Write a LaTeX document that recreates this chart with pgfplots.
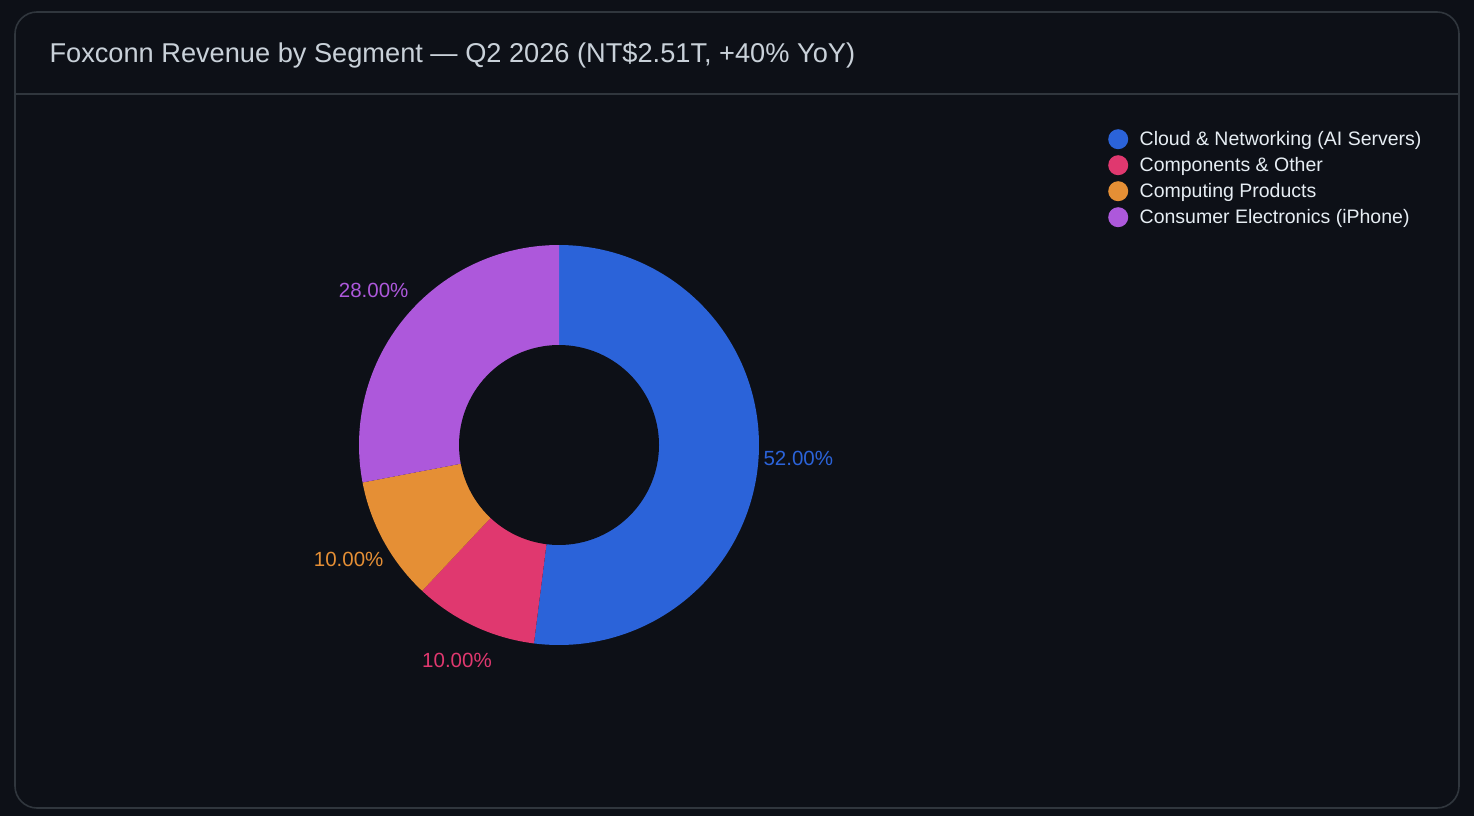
\documentclass[border=0pt]{standalone}
\usepackage{pgfplots}
\pgfplotsset{compat=1.18}
\usepackage{fontspec}
\setmainfont{Liberation Sans}
\definecolor{bg}{HTML}{0D1017}
\definecolor{cardline}{HTML}{30363D}
\definecolor{titlecol}{HTML}{C9D1D9}
\definecolor{legcol}{HTML}{E6EDF3}
\definecolor{cblue}{HTML}{2B63D9}
\definecolor{cpink}{HTML}{E0386F}
\definecolor{corange}{HTML}{E58F35}
\definecolor{cpurple}{HTML}{AD58DB}
\begin{document}
\begin{tikzpicture}
\begin{axis}[
  at={(0,0)}, anchor=south west,
  scale only axis, width=1474pt, height=816pt,
  xmin=0, xmax=1474, ymin=0, ymax=816, y dir=reverse,
  hide axis, clip=false,
  legend style={at={(axis cs:1108,129)}, anchor=north west, draw=none, fill=none,
    text=legcol, font=\fontsize{19.5}{26}\selectfont, row sep=6pt, column sep=10pt,
    inner sep=0pt, nodes={inner sep=1.5pt, text depth=0.25ex}},
  legend cell align=left,
  legend image code/.code={\fill[#1] (4pt,0pt) circle (10pt);},
]
% background and card
\fill[bg] (axis cs:0,0) rectangle (axis cs:1474,816);
\draw[cardline, line width=1.6pt, rounded corners=22pt] (axis cs:15,12) rectangle (axis cs:1459,808);
\draw[cardline, line width=1.6pt] (axis cs:15,94) -- (axis cs:1459,94);
\node[anchor=west, text=titlecol, font=\fontsize{27.2}{31}\selectfont] at (axis cs:46,55) {Foxconn Revenue by Segment — Q2 2026 (NT\$2.51T, +40\% YoY)};
% donut: shares in percent, cumulative from top, clockwise
\addplot[fill=cblue, draw=none, domain=0:52, samples=120, variable=\t]
  ({559+200*cos(90-3.6*\t)}, {445-200*sin(90-3.6*\t)}) -- (axis cs:559,445) -- cycle;
\addlegendentry{Cloud \& Networking (AI Servers)}
\addplot[fill=cpink, draw=none, domain=52:62, samples=30, variable=\t]
  ({559+200*cos(90-3.6*\t)}, {445-200*sin(90-3.6*\t)}) -- (axis cs:559,445) -- cycle;
\addlegendentry{Components \& Other}
\addplot[fill=corange, draw=none, domain=62:72, samples=30, variable=\t]
  ({559+200*cos(90-3.6*\t)}, {445-200*sin(90-3.6*\t)}) -- (axis cs:559,445) -- cycle;
\addlegendentry{Computing Products}
\addplot[fill=cpurple, draw=none, domain=72:100, samples=70, variable=\t]
  ({559+200*cos(90-3.6*\t)}, {445-200*sin(90-3.6*\t)}) -- (axis cs:559,445) -- cycle;
\addlegendentry{Consumer Electronics (iPhone)}
% hole
\addplot[fill=bg, draw=none, domain=0:360, samples=120, forget plot]
  ({559+100*cos(x)}, {445+100*sin(x)}) -- cycle;
% labels
\node[text=cblue, font=\fontsize{20.5}{24}\selectfont, anchor=west] at (axis cs:760,458) {52.00\%};
\node[text=cpurple, font=\fontsize{20.5}{24}\selectfont, anchor=east] at (axis cs:412,290) {28.00\%};
\node[text=corange, font=\fontsize{20.5}{24}\selectfont, anchor=east] at (axis cs:387,559) {10.00\%};
\node[text=cpink, font=\fontsize{20.5}{24}\selectfont] at (axis cs:457,660) {10.00\%};
\end{axis}
\end{tikzpicture}
\end{document}
